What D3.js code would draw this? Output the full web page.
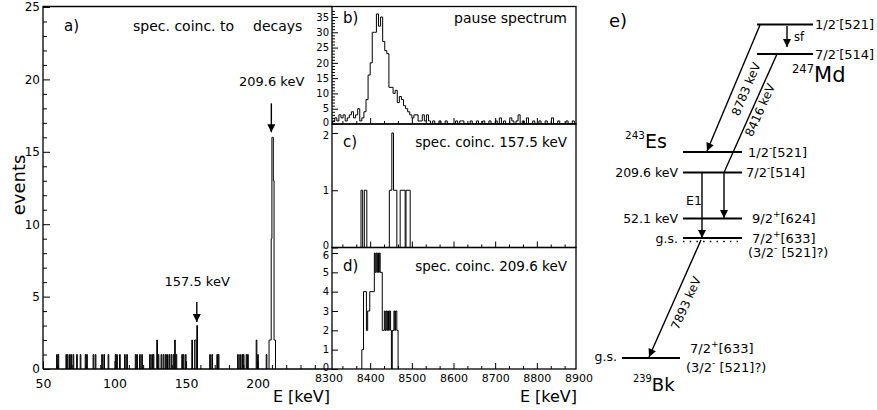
<!DOCTYPE html>
<meta charset="utf-8">
<style>
  body { margin: 0; background: #fff; }
  svg { font-family: "DejaVu Sans", sans-serif; }
  .frame { fill: none; stroke: #000; stroke-width: 1.3; }
  .hist { fill: none; stroke: #000; stroke-width: 1; }
  .lvl { stroke: #000; stroke-width: 1.8; }
  .arr { stroke: #000; stroke-width: 1.4; fill: none; }
</style>
<body>
<div id="chart"></div>
<script src="https://cdn.jsdelivr.net/npm/d3@7"></script>
<script>
// ---- a) gamma spectrum, 0.5 keV bins: [bin start (keV), counts]
var gammaBins = [
  [59.5,1],[60.5,1],[66,1],[67,1],[68.5,1],[69.5,1],[71,1],[73.5,1],[76,1],[79.5,1],
  [80.5,1],[85,1],[86.5,1],[91,1],[92.5,1],[95.5,1],[100.5,1],[101.5,1],[103.5,1],[107,1],
  [108.5,1],[114.5,1],[115.5,1],[117.5,1],[119,1],[124.5,1],[126,1],[127,1],[129.5,2],[130.5,1],
  [132.5,1],[134,1],[135.5,1],[136.5,1],[138,1],[139.5,1],[141,1],[142,2],[143,1],[147,1],
  [148,1],[149.5,1],[154,2],[156,2],[156.5,2],[157.5,3],[166.5,1],[168,1],[171.5,1],[172.5,1],
  [186,1],[187.5,1],[189,1],[190,1],[192,1],[193,1],[199,2],[200,1],[206,1],
  [208,2],[208.5,2],[209,2],[209.5,9],[210,16],[210.5,16],[211,13],[211.5,2],[212,2]
];
var gammaBinWidth = 0.5;
var gammaPeaks = [
  { e: 157.5, top: 3, label: "157.5 keV" },
  { e: 209.6, top: 16, label: "209.6 keV" }
];
var gammaXTicks = [50, 100, 150, 200];
var gammaYTicks = [0, 5, 10, 15, 20, 25];

// ---- b) pause spectrum, 5 keV bins starting at 8310 keV
var pauseStart = 8310, pauseBinWidth = 5;
var pauseCounts = [
  1,2,1,3,2,3,1,2,3,4, 2,3,5,1,2,4,8,16,20,30,
  30,36,32,35,27,24,23,12,12,10, 11,7,9,8,6,5,4,3,2,3,
  3,1,1,3,1,3,1,0,1,0, 0,1,0,0,1,0,0,0,0,1,
  0,1,1,0,0,0,1,0,0,1, 0,0,1,0,0,1,0,0,1,0,
  2,0,1,0,0,2,1,0,1,3, 0,1,0,2,0,0,1,0,0,1,
  0,0,1,0,0,2,0,0,1,0, 0,0,1,0,0,1,0,0
];
var pauseYTicks = [0, 5, 10, 15, 20, 25, 30, 35];

// ---- c) / d) alpha spectra in coincidence: [from keV, to keV, counts]
var coinc1575 = [
  [8378,8382,1],[8386,8392,1],[8446,8452,1],[8452,8456,2],[8456,8464,1],
  [8472,8484,1],[8486,8496,1]
];
var coinc2096 = [
  [8380,8384,1],[8384,8391,4],[8391,8394,2],[8394,8399,3],[8399,8410,4],
  [8410,8412,6],[8412,8414,5],[8414,8416,6],[8416,8418,5],[8418,8420,6],[8420,8422,5],[8422,8424,6],[8424,8429,5],
  [8429,8434,2],[8434,8436,3],[8436,8438,2],[8438,8440,3],[8440,8442,2],[8442,8444,3],[8444,8446,2],[8446,8449,3],
  [8449,8451,2],[8451,8453,0],[8453,8457,2],[8457,8459,3],[8459,8461,2],[8461,8464,3],[8464,8467,2]
];
var alphaXTicks = [8300, 8400, 8500, 8600, 8700, 8800, 8900];

// ---- e) level scheme
var mdLevels = [
  { spin: "1/2", par: "-", nil: "[521]" },
  { spin: "7/2", par: "-", nil: "[514]" }
];
var esLevels = [
  { spin: "1/2", par: "-", nil: "[521]", energy: "" },
  { spin: "7/2", par: "-", nil: "[514]", energy: "209.6 keV" },
  { spin: "9/2", par: "+", nil: "[624]", energy: "52.1 keV" },
  { spin: "7/2", par: "+", nil: "[633]", energy: "g.s.", alt: ["(3/2", "-", " [521]?)"] }
];
var bkLevels = [
  { spin: "7/2", par: "+", nil: "[633]", energy: "g.s.", alt: ["(3/2", "-", " [521]?)"] }
];
var alphaLines = ["8783 keV", "8416 keV", "7893 keV"];

var svg = d3.select("#chart").append("svg")
  .attr("width", 877)
  .attr("height", 410);

var defs = svg.append("defs");
defs.append("marker")
  .attr("id", "head")
  .attr("viewBox", "0 0 10 10")
  .attr("refX", 10).attr("refY", 5)
  .attr("markerUnits", "userSpaceOnUse")
  .attr("markerWidth", 9).attr("markerHeight", 8)
  .attr("orient", "auto")
  .append("path").attr("d", "M0,0L10,5L0,10Z").attr("fill", "#000");

function clip(id, x0, y0, x1, y1) {
  defs.append("clipPath").attr("id", id)
    .append("rect").attr("x", x0).attr("y", y0).attr("width", x1 - x0).attr("height", y1 - y0);
  return "url(#" + id + ")";
}

// step outline of a histogram given [lo, hi, count] segments
function stepPath(segs, x, y) {
  var p = "", prev = null;
  segs.forEach(function (s) {
    if (prev === null || s[0] !== prev) {
      if (prev !== null) p += "V" + y(0);
      p += "M" + x(s[0]) + "," + y(0);
    }
    p += "V" + y(s[2]) + "H" + x(s[1]);
    prev = s[1];
  });
  return p + "V" + y(0);
}

function styleAxis(g, size) {
  g.attr("font-family", "DejaVu Sans, sans-serif").attr("font-size", size);
  g.select(".domain").remove();
  g.selectAll("line").attr("stroke", "#000").attr("stroke-width", 1);
  g.selectAll("text").attr("fill", "#000");
  return g;
}

// ================= panel a =================
var ax0 = 43, ax1 = 332, ayTop = 6.5, ayBot = 369;
var xA = d3.scaleLinear().domain([50, 252]).range([ax0, ax1]);
var yA = d3.scaleLinear().domain([0, 25]).range([ayBot, 7]);

svg.append("path")
  .attr("class", "hist")
  .attr("clip-path", clip("clipA", ax0, ayTop, ax1, ayBot))
  .attr("d", stepPath(gammaBins.map(function (d) { return [d[0], d[0] + gammaBinWidth, d[1]]; }), xA, yA));

svg.append("g").attr("transform", "translate(" + ax0 + ",0)")
  .call(d3.axisLeft(yA).tickValues(gammaYTicks).tickSize(-7).tickPadding(3))
  .call(styleAxis, 12);
svg.append("g").attr("transform", "translate(" + ax0 + ",0)")
  .call(d3.axisLeft(yA).tickValues(d3.range(0, 26).filter(function (v) { return v % 5; })).tickSize(-4).tickFormat(""))
  .call(styleAxis, 12);
svg.append("g").attr("transform", "translate(0," + ayBot + ")")
  .call(d3.axisBottom(xA).tickValues(gammaXTicks).tickSize(-8).tickPadding(10))
  .call(styleAxis, 12.5);
svg.append("g").attr("transform", "translate(0," + ayBot + ")")
  .call(d3.axisBottom(xA).tickValues(d3.range(60, 251, 10).filter(function (v) { return v % 50; })).tickSize(-4).tickFormat(""))
  .call(styleAxis, 12);

svg.append("path").attr("class", "frame")
  .attr("d", "M" + ax0 + "," + ayBot + "V" + ayTop + "H" + ax1 + "M" + ax0 + "," + ayBot + "H" + ax1);

svg.append("text").attr("x", 64).attr("y", 31).attr("font-size", 15).text("a)");
svg.append("text").attr("x", 133).attr("y", 31).attr("font-size", 14).text("spec. coinc. to");
svg.append("text").attr("x", 253).attr("y", 31).attr("font-size", 14).text("decays");

// arrow layout per peak: gap above the bin, arrow length, label gap
var peakArrow = [{ gap: 3.5, len: 20, lab: 36 }, { gap: 5, len: 29, lab: 46 }];
gammaPeaks.forEach(function (p, i) {
  var px = xA(p.e), tip = yA(p.top) - peakArrow[i].gap;
  svg.append("line").attr("class", "arr")
    .attr("x1", px).attr("x2", px).attr("y1", tip - peakArrow[i].len).attr("y2", tip)
    .attr("marker-end", "url(#head)");
  svg.append("text").attr("x", px + 33).attr("y", tip - peakArrow[i].lab)
    .attr("text-anchor", "end").attr("font-size", 13).text(p.label);
});

svg.append("text")
  .attr("transform", "translate(25,185) rotate(-90)")
  .attr("text-anchor", "middle").attr("font-size", 18).text("events");
svg.append("text").attr("x", 273).attr("y", 402).attr("font-size", 16).text("E");
svg.append("text").attr("x", 288).attr("y", 402).attr("font-size", 16).text("[keV]");

// ================= panels b, c, d =================
var bx0 = 332, bx1 = 576;
var xB = d3.scaleLinear().domain([8300, 8900]).range([328.5, 578.5]);
var minorAlpha = d3.range(0, 19).map(function (i) { return 8300 + i * 100 / 3; })
  .filter(function (v, i) { return i % 3 && xB(v) > bx0 && xB(v) < bx1; });

var panels = [
  { id: "b", top: 6.5, bot: 124, y: d3.scaleLinear().domain([0, 35]).range([124, 17]),
    ticks: pauseYTicks, minor: d3.range(1, 38).filter(function (v) { return v % 5; }),
    segs: pauseCounts.map(function (c, i) {
      return [pauseStart + i * pauseBinWidth, pauseStart + (i + 1) * pauseBinWidth, c];
    }),
    tag: "b)", title: "pause spectrum" },
  { id: "c", top: 124, bot: 247.5, y: d3.scaleLinear().domain([0, 2]).range([247.5, 133]),
    ticks: [0, 1, 2], minor: [], segs: coinc1575, tag: "c)", title: "spec. coinc. 157.5 keV" },
  { id: "d", top: 247.5, bot: 369, y: d3.scaleLinear().domain([0, 6]).range([369, 253]),
    ticks: [0, 1, 2, 3, 4, 5, 6], minor: [], segs: coinc2096, tag: "d)", title: "spec. coinc. 209.6 keV" }
];

panels.forEach(function (p) {
  svg.append("path").attr("class", "hist")
    .attr("clip-path", clip("clip" + p.id, bx0, p.top, bx1, p.bot))
    .attr("d", stepPath(p.segs, xB, p.y));

  var yg = svg.append("g").attr("transform", "translate(" + bx0 + ",0)")
    .call(d3.axisLeft(p.y).tickValues(p.ticks).tickSize(-6).tickPadding(3).tickFormat(d3.format("d")))
    .call(styleAxis, 10);
  // nudge the stacked end labels apart a little
  var lo = p.ticks[0], hi = p.ticks[p.ticks.length - 1];
  yg.selectAll(".tick text").attr("dy", function (v) {
    return v === lo ? "0.1em" : (v === hi && p.id !== "b" ? "0.5em" : "0.32em");
  });
  if (p.minor.length) {
    svg.append("g").attr("transform", "translate(" + bx0 + ",0)")
      .call(d3.axisLeft(p.y).tickValues(p.minor).tickSize(-3).tickFormat(""))
      .call(styleAxis, 10);
  }

  var xg = svg.append("g").attr("transform", "translate(0," + p.bot + ")")
    .call(d3.axisBottom(xB).tickValues(alphaXTicks).tickSize(-6).tickPadding(5)
      .tickFormat(p.id === "d" ? d3.format("d") : ""))
    .call(styleAxis, 11);
  xg.selectAll(".tick line").attr("opacity", function (v) { return xB(v) > bx0 && xB(v) < bx1 ? 1 : 0; });
  svg.append("g").attr("transform", "translate(0," + p.bot + ")")
    .call(d3.axisBottom(xB).tickValues(minorAlpha).tickSize(-3).tickFormat(""))
    .call(styleAxis, 11);

  svg.append("rect").attr("class", "frame")
    .attr("x", bx0).attr("y", p.top).attr("width", bx1 - bx0).attr("height", p.bot - p.top);

  var ty = p.top + (p.id === "b" ? 16 : 23);
  svg.append("text").attr("x", 343).attr("y", ty).attr("font-size", 15).text(p.tag);
  svg.append("text").attr("x", 567).attr("y", ty).attr("text-anchor", "end")
    .attr("font-size", p.id === "b" ? 14 : 13.5).text(p.title);
});

svg.append("text").attr("x", 520).attr("y", 402).attr("font-size", 16).text("E");
svg.append("text").attr("x", 535).attr("y", 402).attr("font-size", 16).text("[keV]");

// ================= panel e: level scheme =================
function spinText(sel, lv, x, y, size) {
  var t = sel.append("text").attr("x", x).attr("y", y).attr("font-size", size);
  t.append("tspan").text(lv.spin);
  t.append("tspan").attr("dy", -6).attr("font-size", size * 0.7).text(lv.par);
  t.append("tspan").attr("dy", 6).text(lv.nil);
  return t;
}
function altText(sel, alt, x, y, size) {
  var t = sel.append("text").attr("x", x).attr("y", y).attr("font-size", size);
  t.append("tspan").text(alt[0]);
  t.append("tspan").attr("dy", -6).attr("font-size", size * 0.7).text(alt[1]);
  t.append("tspan").attr("dy", 6).text(alt[2]);
}
function nucleus(sel, mass, sym, x, y, size) {
  var t = sel.append("text").attr("x", x).attr("y", y).attr("font-size", size);
  t.append("tspan").attr("font-size", size * 0.55).attr("dy", -9).text(mass);
  t.append("tspan").attr("dy", 9).text(sym);
}

var e = svg.append("g");
e.append("text").attr("x", 609).attr("y", 27).attr("font-size", 18).text("e)");

// Md
var mdY = [24.5, 54], mdX = [757, 813];
mdLevels.forEach(function (lv, i) {
  e.append("line").attr("class", "lvl").attr("x1", mdX[0]).attr("x2", mdX[1]).attr("y1", mdY[i]).attr("y2", mdY[i]);
  spinText(e, lv, 815, mdY[i] + 4.5, 13);
});
nucleus(e, "247", "Md", 792, 82, 21);
e.append("line").attr("class", "arr").attr("x1", 787).attr("x2", 787).attr("y1", 26).attr("y2", 47)
  .attr("marker-end", "url(#head)");
e.append("text").attr("x", 794).attr("y", 41).attr("font-size", 11.5).text("sf");

// Es
var esY = [152, 172.5, 218.5, 238], esX = [683, 742], esLab = [748, 746, 752, 752];
esLevels.forEach(function (lv, i) {
  e.append("line").attr("class", "lvl").attr("x1", esX[0]).attr("x2", esX[1]).attr("y1", esY[i]).attr("y2", esY[i]);
  spinText(e, lv, esLab[i], esY[i] + 4.5, 13);
  if (lv.energy) e.append("text").attr("x", 678).attr("y", esY[i] + 4.5).attr("text-anchor", "end")
    .attr("font-size", 12.5).text(lv.energy);
  if (lv.alt) altText(e, lv.alt, 748, esY[i] + 19, 13);
});
e.append("line").attr("x1", esX[0]).attr("x2", esX[1]).attr("y1", 241.5).attr("y2", 241.5)
  .attr("stroke", "#000").attr("stroke-width", 1.5).attr("stroke-dasharray", "1.5,5.2");
nucleus(e, "243", "Es", 625, 148, 19);

// Bk
var bkY = [358], bkX = [622, 680];
bkLevels.forEach(function (lv, i) {
  e.append("line").attr("class", "lvl").attr("x1", bkX[0]).attr("x2", bkX[1]).attr("y1", bkY[i]).attr("y2", bkY[i]);
  spinText(e, lv, 690, bkY[i] - 5, 13);
  e.append("text").attr("x", 617).attr("y", bkY[i] + 3).attr("text-anchor", "end").attr("font-size", 12.5).text(lv.energy);
  altText(e, lv.alt, 686, bkY[i] + 14, 13);
});
nucleus(e, "239", "Bk", 633, 391, 18);

// transitions
var tr = [
  { x1: 760, y1: 25, x2: 707, y2: 151, head: true },
  { x1: 777, y1: 54, x2: 724, y2: 172.5, head: false },
  { x1: 701, y1: 240, x2: 649, y2: 357, head: true }
];
var trLabel = [[746, 89], [760, 110], [686, 303]];
tr.forEach(function (t, i) {
  e.append("line").attr("class", "arr").attr("x1", t.x1).attr("y1", t.y1).attr("x2", t.x2).attr("y2", t.y2)
    .attr("marker-end", t.head ? "url(#head)" : null);
  var ang = Math.atan2(t.y1 - t.y2, t.x1 - t.x2) * 180 / Math.PI;
  e.append("text")
    .attr("transform", "translate(" + trLabel[i][0] + "," + trLabel[i][1] + ") rotate(" + ang + ")")
    .attr("text-anchor", "middle").attr("dy", "0.35em").attr("font-size", 12).text(alphaLines[i]);
});
e.append("line").attr("class", "arr").attr("x1", 724).attr("x2", 724).attr("y1", 172.5).attr("y2", 218)
  .attr("marker-end", "url(#head)");
e.append("line").attr("class", "arr").attr("x1", 702).attr("x2", 702).attr("y1", 172.5).attr("y2", 238)
  .attr("marker-end", "url(#head)");
e.append("text").attr("x", 686).attr("y", 205).attr("font-size", 12.5).text("E1");
</script>
</body>
